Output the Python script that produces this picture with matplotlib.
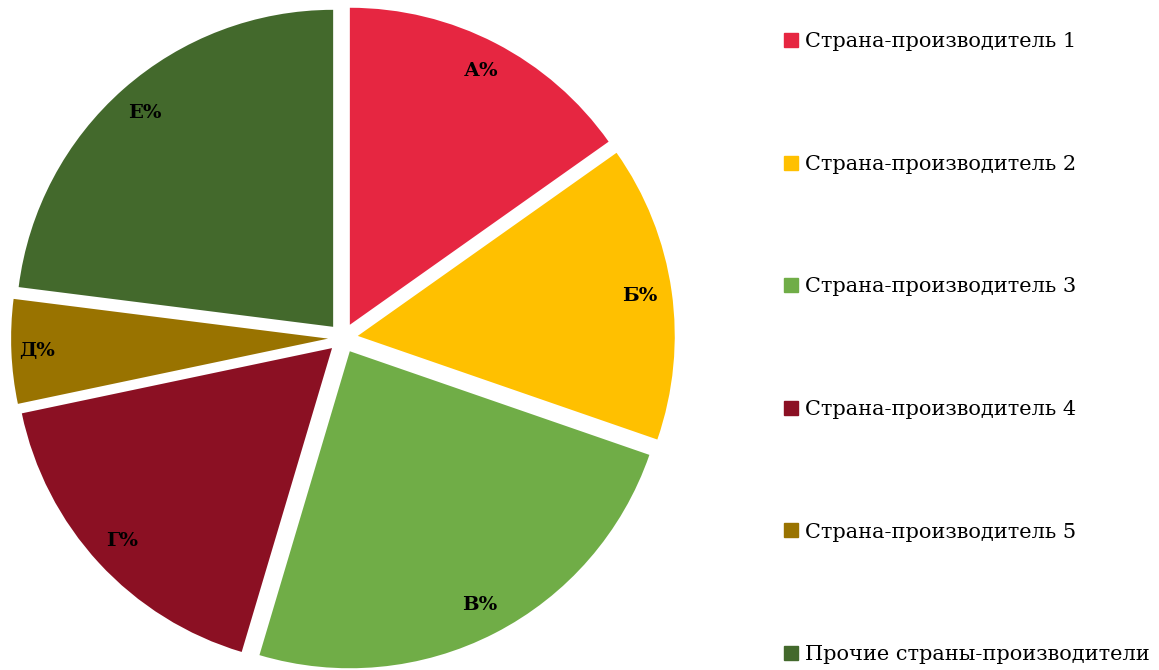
import matplotlib
matplotlib.use('Agg')
import matplotlib.pyplot as plt
import numpy as np

# Данные
labels = ['А%', 'Б%', 'В%', 'Г%', 'Д%', 'Е%']
names = ['Страна-производитель 1', 'Страна-производитель 2', 'Страна-производитель 3',
         'Страна-производитель 4', 'Страна-производитель 5', 'Прочие страны-производители']
shares = [15.2, 15.1, 24.3, 17.1, 5.3, 23.0]
colors = ['#E62641', '#FFC000', '#70AD47', '#8B1023', '#997300', '#43692C']

fig = plt.figure(figsize=(11.59, 6.70), dpi=100)
# круг: центр (343, 338) px, радиус 317 px; оси 720 px
R_PX = 317
W_PX = 720
lim = W_PX / (2 * R_PX)
ax = fig.add_axes([(343 - W_PX / 2) / 1159, (670 - 338 - W_PX / 2) / 670,
                   W_PX / 1159, W_PX / 670])
wedges, _ = ax.pie(shares, colors=colors, startangle=90, counterclock=False,
                   explode=[0.047] * len(shares))
ax.set_xlim(-lim, lim)
ax.set_ylim(-lim, lim)
ax.set_aspect('equal')
ax.axis('off')

# подписи долей
for w, lab in zip(wedges, labels):
    ang = np.deg2rad((w.theta1 + w.theta2) / 2)
    r = 0.92 if lab == 'Д%' else 0.9
    cx, cy = w.center
    ax.text(cx + r * np.cos(ang), cy + r * np.sin(ang), lab, ha='center', va='center',
            fontsize=14, fontweight='bold', family='DejaVu Serif')

# легенда
handles = [plt.Rectangle((0, 0), 1, 1, color=c) for c in colors]
fig.legend(handles, names, loc='upper left', bbox_to_anchor=(776 / 1159, 1 - 24 / 670),
           frameon=False, prop={'family': 'DejaVu Serif', 'size': 15},
           handlelength=0.65, handleheight=0.65, handletextpad=0.35,
           labelspacing=4.97, borderaxespad=0)

fig.savefig('out.png', dpi=100)
